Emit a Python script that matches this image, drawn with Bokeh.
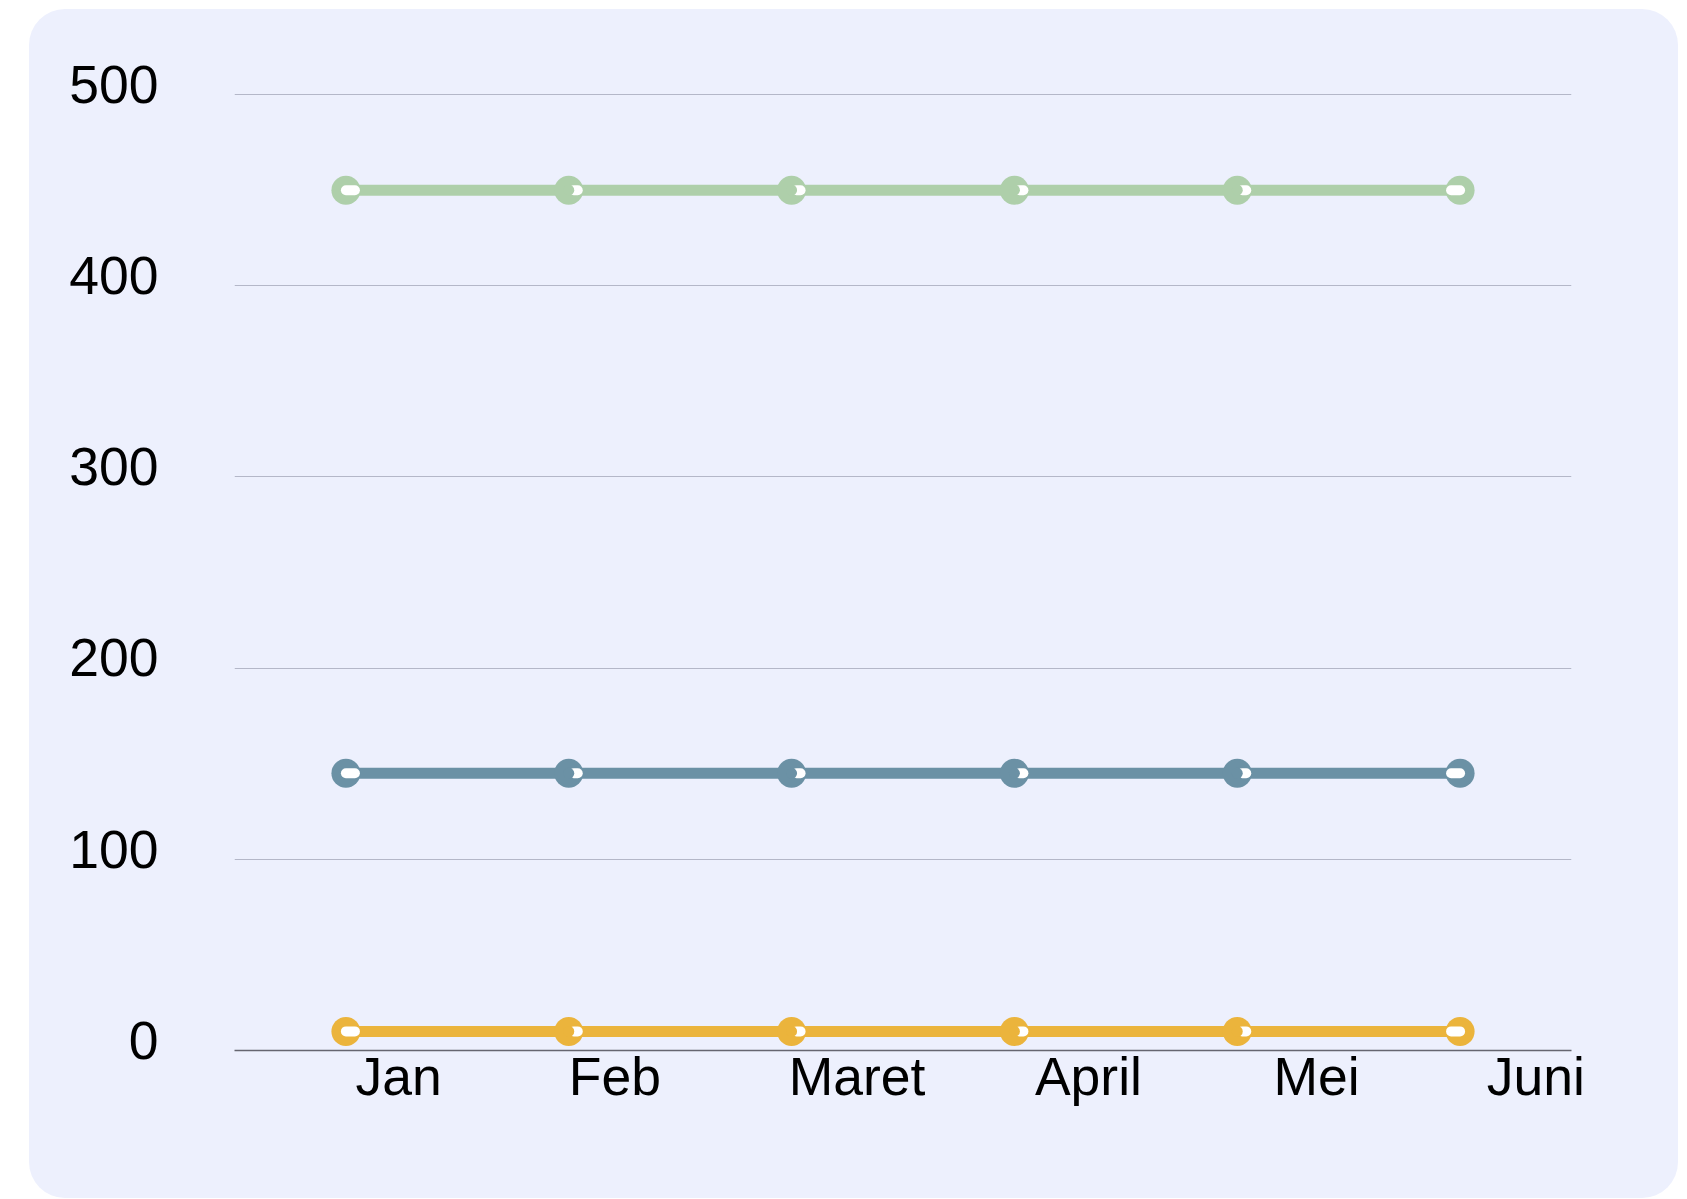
from bokeh.plotting import figure
from bokeh.models import FixedTicker, Range1d
from bokeh.embed import file_html
from bokeh.resources import INLINE

# ---- data ----
months = ["Jan", "Feb", "Maret", "April", "Mei", "Juni"]
green_values = [450, 450, 450, 450, 450, 450]
blue_values = [145, 145, 145, 145, 145, 145]
yellow_values = [10, 10, 10, 10, 10, 10]
y_ticks = [0, 100, 200, 300, 400, 500]

# ---- layout / style ----
W, H = 1649, 1189
BL, BR, BT, BB = 205, 107, 66, 148
FRAME_W = W - BL - BR
BG = "#edf0fd"
FONT = "Liberation Sans"
FS = "53.5px"
# label placement along x (in category units) as in the original
x_label_pos = [0.236, 1.207, 2.294, 3.332, 4.356, 5.340]
Y_LABEL_SHIFT = 5.4
Y_MAX = 510

series = [
    (green_values, "#aecfaa"),
    (blue_values, "#6b91a5"),
    (yellow_values, "#ebb43c"),
]

p = figure(width=W, height=H, x_range=Range1d(-0.5, 5.5), y_range=Range1d(0, Y_MAX),
           output_backend="svg", toolbar_location=None,
           min_border_left=BL, min_border_right=BR, min_border_top=BT, min_border_bottom=BB)
p.margin = (9, 0, 0, 29)
p.styles = {"background-color": BG, "border-radius": "36px"}
p.border_fill_alpha = 0
p.background_fill_alpha = 0
p.outline_line_color = None

# grid
p.xgrid.visible = False
p.ygrid.ticker = FixedTicker(ticks=y_ticks)
p.ygrid.grid_line_color = "#b4b7c8"
p.ygrid.grid_line_width = 1

# y axis
yax = p.yaxis[0]
yax.ticker = FixedTicker(ticks=[t + Y_LABEL_SHIFT for t in y_ticks])
yax.major_label_overrides = {t + Y_LABEL_SHIFT: str(t) for t in y_ticks}
yax.axis_line_color = None
yax.major_tick_line_color = None
yax.minor_tick_line_color = None
yax.major_tick_out = 0
yax.major_label_standoff = 76
yax.major_label_text_font = FONT
yax.major_label_text_font_size = FS
yax.major_label_text_color = "#000000"

# x axis
xax = p.xaxis[0]
xax.ticker = FixedTicker(ticks=x_label_pos)
xax.major_label_overrides = {pos: m for pos, m in zip(x_label_pos, months)}
xax.axis_line_color = "#666670"
xax.axis_line_width = 1.5
xax.major_tick_line_color = None
xax.minor_tick_line_color = None
xax.major_tick_out = 0
xax.major_label_standoff = -4
xax.major_label_text_font = FONT
xax.major_label_text_font_size = FS
xax.major_label_text_color = "#000000"

x = list(range(len(months)))
u = 6.0 / FRAME_W  # data units per screen pixel
n = len(months)

for vals, col in series:
    p.line(x, vals, line_width=11, line_color=col)
    p.scatter(x, vals, size=29, fill_color=col, line_color=None)
    # white highlight slits inside markers
    x0, x1 = [], []
    for i in x:
        if i == 0:
            x0.append(i); x1.append(i + 9 * u)
        elif i == n - 1:
            x0.append(i - 9 * u); x1.append(i)
        else:
            x0.append(i + 5 * u); x1.append(i + 9 * u)
    p.segment(x0=x0, y0=vals, x1=x1, y1=vals, line_color="white", line_width=10, line_cap="round")
    mid = x[1:-1]
    p.scatter(mid, vals[1:-1], size=11, fill_color=col, line_color=None)

open("out.html", "w").write(file_html(p, INLINE))
